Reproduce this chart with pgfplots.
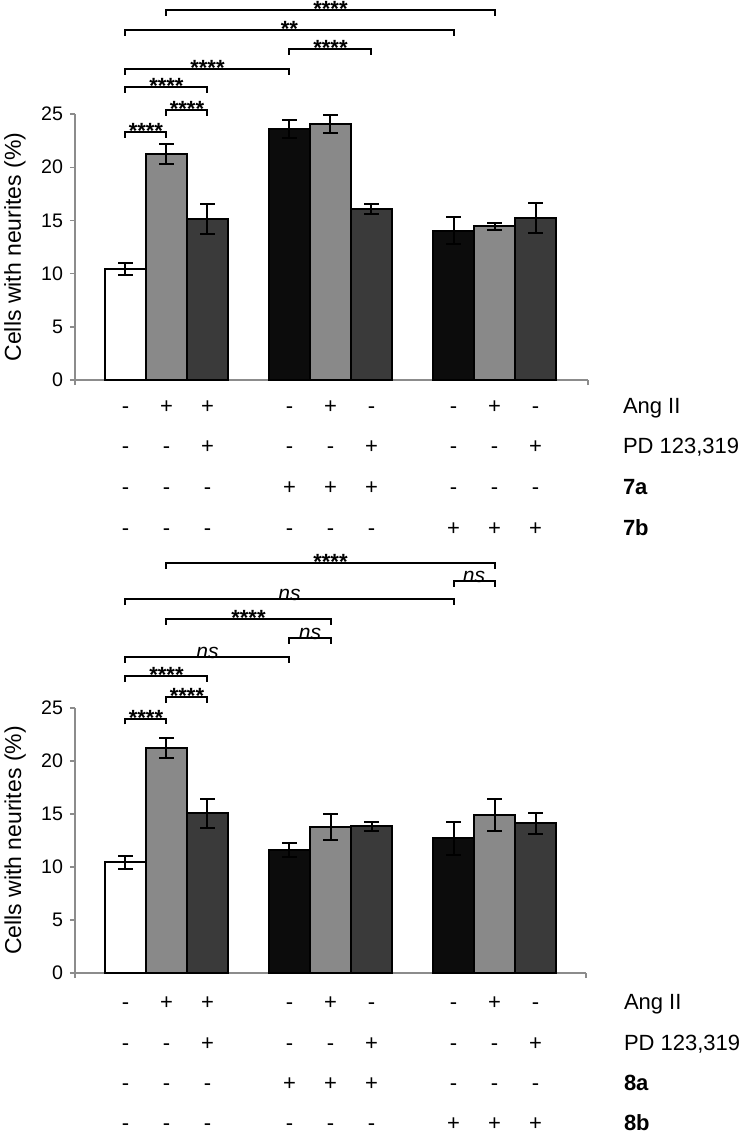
\documentclass[border=0pt]{standalone}
\usepackage{fontspec}
\setmainfont{Liberation Sans}
\usepackage{pgfplots}
\pgfplotsset{compat=1.18}
\definecolor{bargray}{HTML}{898989}
\definecolor{bardark}{HTML}{3A3A3A}
\definecolor{barblack}{HTML}{0C0C0C}
\definecolor{axgray}{HTML}{8C8C8C}

\pgfplotsset{
  panel/.style={
    scale only axis,
    xmin=-1.23, ymin=0, ymax=25,
    axis x line*=bottom, axis y line*=left,
    axis line style={axgray, line width=0.7pt},
    tick style={axgray, line width=0.7pt},
    tick align=outside, major tick length=2.5pt,
    ytick={0,5,10,15,20,25},
    xticklabels={},
    yticklabel style={font=\fontsize{9.8}{10}\selectfont, black},
    /pgf/number format/assume math mode=true,
    ylabel={Cells with neurites (\%)},
    ylabel style={font=\fontsize{11.5}{12}\selectfont, at={(axis description cs:-0.117,0.5)}, anchor=center},
    clip=false,
  },
  bars/.style={ybar, bar width=1, bar shift=0pt, draw=black, line width=1pt,
    error bars/y dir=both, error bars/y explicit,
    error bars/error bar style={line width=1pt, black},
    error bars/error mark options={rotate=90, mark size=3.7pt, line width=1pt, black}},
}
% bracket with asterisks
\newcommand{\sigA}[4]{\draw[line width=1pt, black] (axis cs:#1,#3) ++(0pt,-2.9pt) -- ++(0pt,2.9pt)
  -- node[pos=0.5, anchor=base, yshift=-3.2pt, inner sep=0pt, font=\fontsize{11}{12}\selectfont\bfseries] {#4} (axis cs:#2,#3) -- ++(0pt,-2.9pt);}
% bracket with ns
\newcommand{\sigN}[3]{\draw[line width=1pt, black] (axis cs:#1,#3) ++(0pt,-2.9pt) -- ++(0pt,2.9pt)
  -- node[pos=0.5, anchor=base, yshift=-0.6pt, inner sep=0pt, font=\fontsize{10.5}{11}\selectfont\itshape] {ns} (axis cs:#2,#3) -- ++(0pt,-2.9pt);}

\begin{document}
\begin{tikzpicture}
\useasboundingbox (0,0) rectangle (372pt,-567pt);

% ---------------- top panel ----------------
\begin{axis}[panel, at={(37.5pt,-190pt)}, anchor=south west,
  width=256.5pt, height=133pt, xmax=11.28, xtick={-1.23,11.28}]
\addplot[fill=white, bars] coordinates {(0,10.4) +- (0,0.55)};
\addplot[fill=bargray, bars] coordinates {(1,21.25) +- (0,0.95) (5,24.05) +- (0,0.85) (9,14.45) +- (0,0.33)};
\addplot[fill=bardark, bars] coordinates {(2,15.12) +- (0,1.4) (6,16.05) +- (0,0.48) (10,15.25) +- (0,1.4)};
\addplot[fill=barblack, bars] coordinates {(4,23.6) +- (0,0.85) (8,14.05) +- (0,1.25)};
\sigA{1}{9}{34.77}{****}
\sigA{0}{8}{32.89}{**}
\sigA{4}{6}{31.1}{****}
\sigA{0}{4}{29.23}{****}
\sigA{0}{2}{27.54}{****}
\sigA{1}{2}{25.38}{****}
\sigA{0}{1}{23.3}{****}
\end{axis}

% ---------------- bottom panel ----------------
\begin{axis}[panel, at={(37.5pt,-486.5pt)}, anchor=south west,
  width=255.5pt, height=132.5pt, xmax=11.23, xtick={-1.23,11.23}]
\addplot[fill=white, bars] coordinates {(0,10.44) +- (0,0.63)};
\addplot[fill=bargray, bars] coordinates {(1,21.2) +- (0,0.95) (5,13.77) +- (0,1.2) (9,14.87) +- (0,1.5)};
\addplot[fill=bardark, bars] coordinates {(2,15.08) +- (0,1.37) (6,13.83) +- (0,0.45) (10,14.11) +- (0,0.95)};
\addplot[fill=barblack, bars] coordinates {(4,11.6) +- (0,0.7) (8,12.72) +- (0,1.55)};
\sigA{1}{9}{38.7}{****}
\sigN{8}{9}{37.0}
\sigN{0}{8}{35.25}
\sigA{1}{5}{33.4}{****}
\sigN{4}{5}{31.6}
\sigN{0}{4}{29.8}
\sigA{0}{2}{28.0}{****}
\sigA{1}{2}{26.0}{****}
\sigA{0}{1}{24.0}{****}
\end{axis}

% ---------------- treatment rows ----------------
\newcommand{\signrow}[2]{%
  \foreach \s [count=\i from 0] in {#1} {%
    \pgfmathsetmacro\xx{62.75+20.5*(\i+floor(\i/3))}%
    \node[anchor=base, inner sep=0pt, font=\fontsize{11}{12}\selectfont] at (\xx pt,#2) {\s};
  }}
\tikzset{rowlab/.style={anchor=base west, inner sep=0pt, font=\fontsize{11}{12}\selectfont}}
% top
\signrow{-,+,+,-,+,-,-,+,-}{-206.5pt}
\signrow{-,-,+,-,-,+,-,-,+}{-226.5pt}
\signrow{-,-,-,+,+,+,-,-,-}{-247pt}
\signrow{-,-,-,-,-,-,+,+,+}{-267.5pt}
\node[rowlab] at (311.3pt,-206.5pt) {Ang II};
\node[rowlab] at (311.3pt,-226.5pt) {PD 123,319};
\node[rowlab] at (311.3pt,-247pt) {\bfseries 7a};
\node[rowlab] at (311.3pt,-267.5pt) {\bfseries 7b};
% bottom
\signrow{-,+,+,-,+,-,-,+,-}{-504.5pt}
\signrow{-,-,+,-,-,+,-,-,+}{-525pt}
\signrow{-,-,-,+,+,+,-,-,-}{-545pt}
\signrow{-,-,-,-,-,-,+,+,+}{-565pt}
\node[rowlab] at (311.8pt,-504.5pt) {Ang II};
\node[rowlab] at (311.8pt,-525pt) {PD 123,319};
\node[rowlab] at (311.8pt,-545pt) {\bfseries 8a};
\node[rowlab] at (311.8pt,-565pt) {\bfseries 8b};
\end{tikzpicture}
\end{document}
